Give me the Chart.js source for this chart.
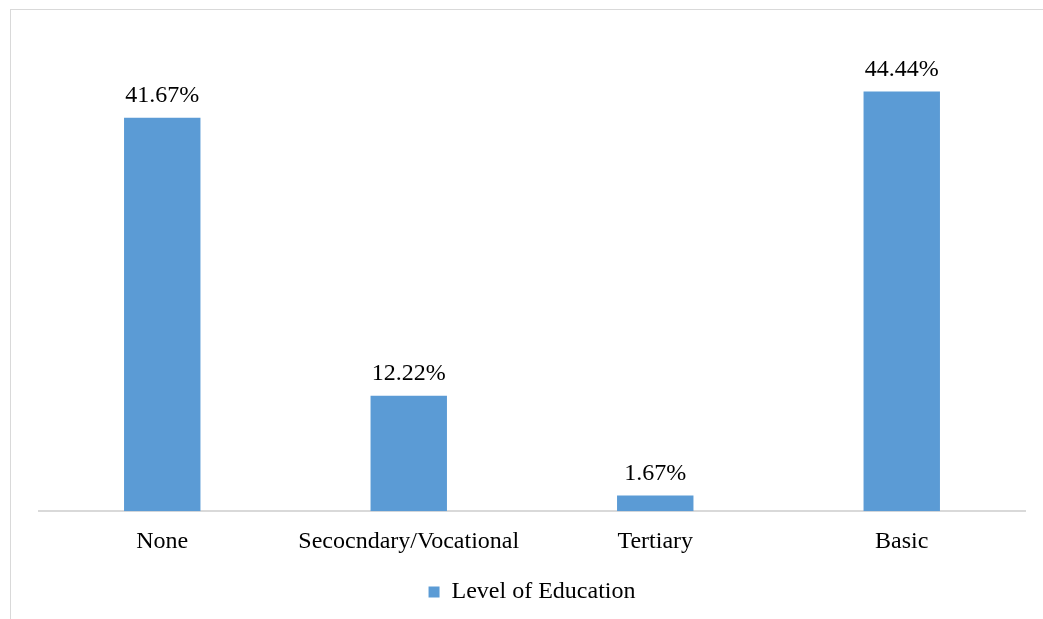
<!DOCTYPE html>
<html>
<head>
<meta charset="utf-8">
<script src="https://cdn.jsdelivr.net/npm/chart.js@4.4.1/dist/chart.umd.min.js"></script>
<style>
  html, body { margin: 0; padding: 0; background: #fff; overflow: hidden; }
  #wrap { position: relative; width: 1043px; height: 619px; }
  #frame { position: absolute; left: 10px; top: 9px; width: 1100px; height: 700px; border: 1px solid #d9d9d9; }
  #eduCanvas { position: absolute; left: 0; top: 0; }
</style>
</head>
<body>
<div id="wrap">
  <div id="frame"></div>
  <canvas id="eduCanvas" width="1043" height="619"></canvas>
</div>
<script>
const categories = ['None', 'Secocndary/Vocational', 'Tertiary', 'Basic'];
const shares = [41.67, 12.22, 1.67, 44.44];
const seriesName = 'Level of Education';

const fontFamily = '"Liberation Serif", "Times New Roman", serif';

// draw the percentage above each bar
const barLabels = {
    id: 'barLabels',
    afterDatasetsDraw(chart) {
        const ctx = chart.ctx;
        const meta = chart.getDatasetMeta(0);
        ctx.save();
        ctx.font = '24px ' + fontFamily;
        ctx.fillStyle = '#000';
        ctx.textAlign = 'center';
        ctx.textBaseline = 'bottom';
        meta.data.forEach((bar, i) => {
            ctx.fillText(shares[i].toFixed(2) + '%', bar.x, bar.y - 10);
        });
        ctx.restore();
    }
};

new Chart(document.getElementById('eduCanvas'), {
    type: 'bar',
    data: {
        labels: categories,
        datasets: [{
            label: seriesName,
            data: shares,
            backgroundColor: '#5b9bd5',
            borderWidth: 0,
            categoryPercentage: 1,
            barPercentage: 0.31
        }]
    },
    options: {
        responsive: false,
        animation: false,
        layout: { padding: { left: 39, right: 18, top: 39, bottom: 5 } },
        scales: {
            x: {
                grid: { display: false },
                border: { display: true, color: '#d9d9d9', width: 2 },
                ticks: { color: '#000', padding: 8, font: { family: fontFamily, size: 24 }, maxRotation: 0 }
            },
            y: {
                display: false,
                min: 0,
                max: 50
            }
        },
        plugins: {
            legend: {
                position: 'bottom',
                labels: {
                    color: '#000',
                    boxWidth: 11,
                    boxHeight: 11,
                    padding: 16,
                    font: { family: fontFamily, size: 24 }
                }
            },
            tooltip: { enabled: false }
        }
    },
    plugins: [barLabels]
});
</script>
</body>
</html>
